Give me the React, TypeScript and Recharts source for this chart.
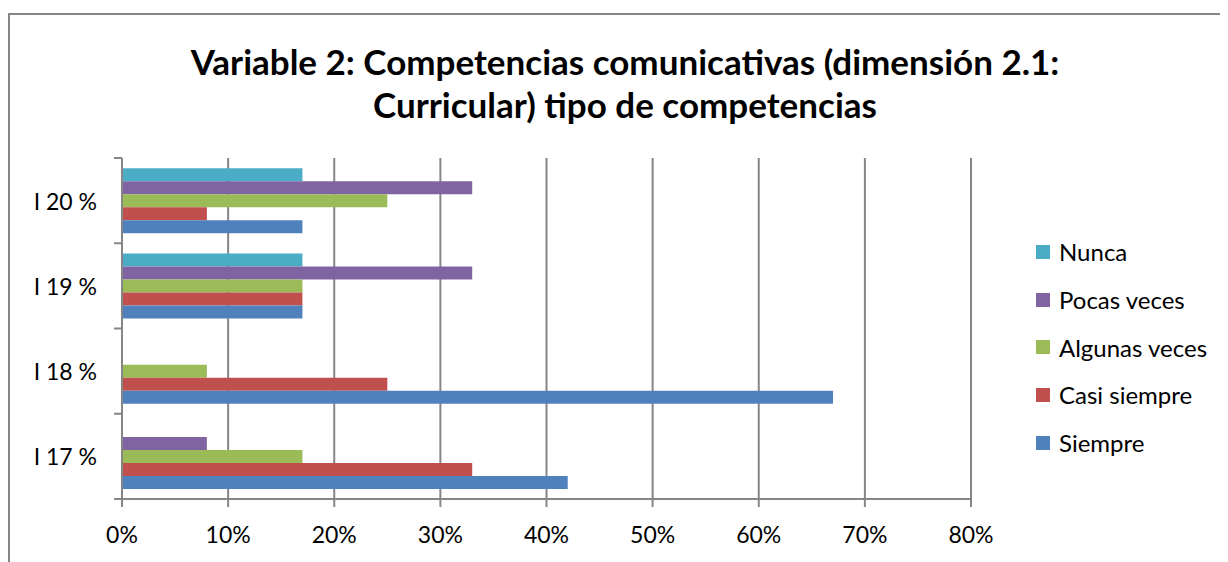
import React from "react";
import { BarChart, Bar, XAxis, YAxis, CartesianGrid, Legend } from "recharts";

const categories = ["I 17 %", "I 18 %", "I 19 %", "I 20 %"];
const siempre = [42, 67, 17, 17];
const casiSiempre = [33, 25, 17, 8];
const algunasVeces = [17, 8, 17, 25];
const pocasVeces = [8, 0, 33, 33];
const nunca = [0, 0, 17, 17];
const xTicks = [0, 10, 20, 30, 40, 50, 60, 70, 80];

// top-to-bottom order inside each band, same as legend
const SERIES = [
  { key: "nunca", name: "Nunca", color: "#4BACC6", values: nunca },
  { key: "pocas", name: "Pocas veces", color: "#8064A2", values: pocasVeces },
  { key: "algunas", name: "Algunas veces", color: "#9BBB59", values: algunasVeces },
  { key: "casi", name: "Casi siempre", color: "#C0504D", values: casiSiempre },
  { key: "siempre", name: "Siempre", color: "#4F81BD", values: siempre },
];

const data = categories.map((cat, i) => {
  const row: Record<string, any> = { cat };
  SERIES.forEach((s) => (row[s.key] = s.values[i]));
  return row;
});

const FONT = "Lato, 'Open Sans', sans-serif";
const AXIS = "#868686";
const W = 1220;
const H = 554;
const M = { top: 150, right: 257, bottom: 23, left: 14 };
const BAND = (H - M.top - M.bottom - 40) / categories.length;

function CatTick(props: any) {
  const { x, y, payload, index } = props;
  const ax = x + 8;
  return (
    <g>
      <line x1={ax - 8} x2={ax} y1={y - BAND / 2} y2={y - BAND / 2} stroke={AXIS} strokeWidth={2} />
      {index === 0 && (
        <line x1={ax - 8} x2={ax} y1={y + BAND / 2} y2={y + BAND / 2} stroke={AXIS} strokeWidth={2} />
      )}
      <text x={ax - 25} y={y} textAnchor="end" dominantBaseline="central" fontSize={23} fontFamily={FONT} fill="#000">
        {payload.value}
      </text>
    </g>
  );
}

function LegendBox(props: any) {
  const order = SERIES.map((s) => s.name);
  const items = [...(props.payload || [])].sort(
    (a: any, b: any) => order.indexOf(a.value) - order.indexOf(b.value)
  );
  return (
    <div style={{ fontFamily: FONT, fontSize: 24, color: "#000" }}>
      {items.map((it: any) => (
        <div key={it.value} style={{ display: "flex", alignItems: "center", height: 47.7 }}>
          <span style={{ width: 14, height: 14, background: it.color, display: "inline-block", marginRight: 9 }} />
          <span>{it.value}</span>
        </div>
      ))}
    </div>
  );
}

export default function App() {
  return (
    <div style={{ position: "relative", width: W, height: H }}>
      <div
        style={{
          position: "absolute",
          left: 0,
          top: 5,
          width: W,
          height: H,
          borderTop: `2px solid ${AXIS}`,
          borderLeft: `2px solid ${AXIS}`,
          boxSizing: "border-box",
        }}
      />
      <div
        style={{
          position: "absolute",
          left: 7,
          top: 32,
          width: W,
          textAlign: "center",
          fontFamily: FONT,
          fontWeight: 700,
          fontSize: 35,
          lineHeight: "43px",
          color: "#000",
        }}
      >
        Variable 2: Competencias comunicativas (dimensión 2.1:
        <br />
        Curricular) tipo de competencias
      </div>
      <BarChart
        width={W}
        height={H}
        data={data}
        layout="vertical"
        margin={M}
        barCategoryGap="12%"
        barGap={0}
        style={{ position: "absolute", left: 0, top: 0 }}
      >
        <CartesianGrid horizontal={false} stroke={AXIS} strokeWidth={2} />
        <XAxis
          type="number"
          domain={[0, 80]}
          ticks={xTicks}
          interval={0}
          tickFormatter={(v: number) => `${v}%`}
          height={40}
          tickSize={8}
          tickMargin={20}
          axisLine={{ stroke: AXIS, strokeWidth: 2 }}
          tickLine={{ stroke: AXIS, strokeWidth: 2 }}
          tick={{ fontSize: 23, fontFamily: FONT, fill: "#000" }}
        />
        <YAxis
          type="category"
          dataKey="cat"
          reversed
          width={100}
          axisLine={{ stroke: AXIS, strokeWidth: 2 }}
          tickLine={false}
          tick={<CatTick />}
        />
        <Legend
          layout="vertical"
          align="center"
          verticalAlign="middle"
          content={<LegendBox />}
          wrapperStyle={{ left: 1028, top: 220, width: 190 }}
        />
        {SERIES.map((s) => (
          <Bar key={s.key} dataKey={s.key} name={s.name} fill={s.color} isAnimationActive={false} />
        ))}
      </BarChart>
    </div>
  );
}
